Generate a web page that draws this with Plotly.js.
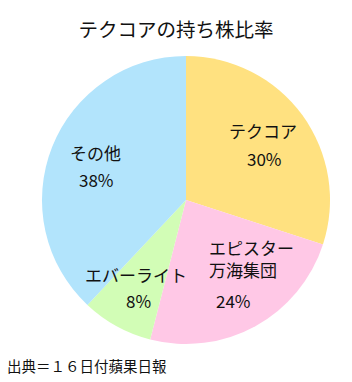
<!DOCTYPE html>
<html><head><meta charset="utf-8">
<script src="https://cdn.plot.ly/plotly-3.0.1.min.js"></script>
<style>html,body{margin:0;padding:0;background:#fff}#c{width:352px;height:382px}</style>
</head><body><div id="c"></div>
<script>
const labels = ["テクコア", "エピスター<br>万海集団", "エバーライト", "その他"];
const values = [30, 24, 8, 38];
const colors = ["#FFE180", "#FFC8E6", "#D2FDB6", "#B2E4FC"];
const titleText = "テクコアの持ち株比率";
const sourceText = "出典＝１６日付蘋果日報";

const W = 352, H = 382;
// label placement (pixels from top-left): [nameX, nameY, nameAnchor, pctX, pctY]
const labelPlace = [
  [263, 130, "center", 264, 158],
  [207, 258, "left", 233, 300],
  [136, 274, "center", 138, 300],
  [95, 152, "center", 96, 180]
];

const trace = {
  type: "pie",
  values: values,
  labels: labels,
  textinfo: "none",
  hoverinfo: "none",
  sort: false,
  direction: "clockwise",
  rotation: 0,
  marker: {colors: colors, line: {width: 0}},
  domain: {x: [42/W, 330/W], y: [38/H, 326/H]},
  showlegend: false
};

const annotations = [];
labels.forEach((l, i) => {
  const p = labelPlace[i];
  annotations.push({
    text: l, xref: "paper", yref: "paper", x: p[0]/W, y: 1 - p[1]/H,
    xanchor: p[2], yanchor: "middle", align: p[2] === "left" ? "left" : "center",
    showarrow: false, font: {size: 17, color: "#111"}
  });
  annotations.push({
    text: values[i] + "%", xref: "paper", yref: "paper", x: p[3]/W, y: 1 - p[4]/H,
    xanchor: "center", yanchor: "middle", showarrow: false, font: {size: 17, color: "#111"}
  });
});
annotations.push({
  text: sourceText, xref: "paper", yref: "paper", x: 5/W, y: 1 - 365/H,
  xanchor: "left", yanchor: "middle", showarrow: false, font: {size: 14.5, color: "#111"}
});

const layout = {
  width: W, height: H,
  margin: {l: 0, r: 0, t: 0, b: 0},
  paper_bgcolor: "#fff",
  font: {family: "'Noto Sans CJK JP', sans-serif", color: "#111"},
  title: {text: titleText, font: {size: 19.5, color: "#111"}, x: 0.5, xanchor: "center", y: 1 - 30/H, yanchor: "middle"},
  annotations: annotations
};

Plotly.newPlot("c", [trace], layout, {staticPlot: true, displayModeBar: false});
</script></body></html>
